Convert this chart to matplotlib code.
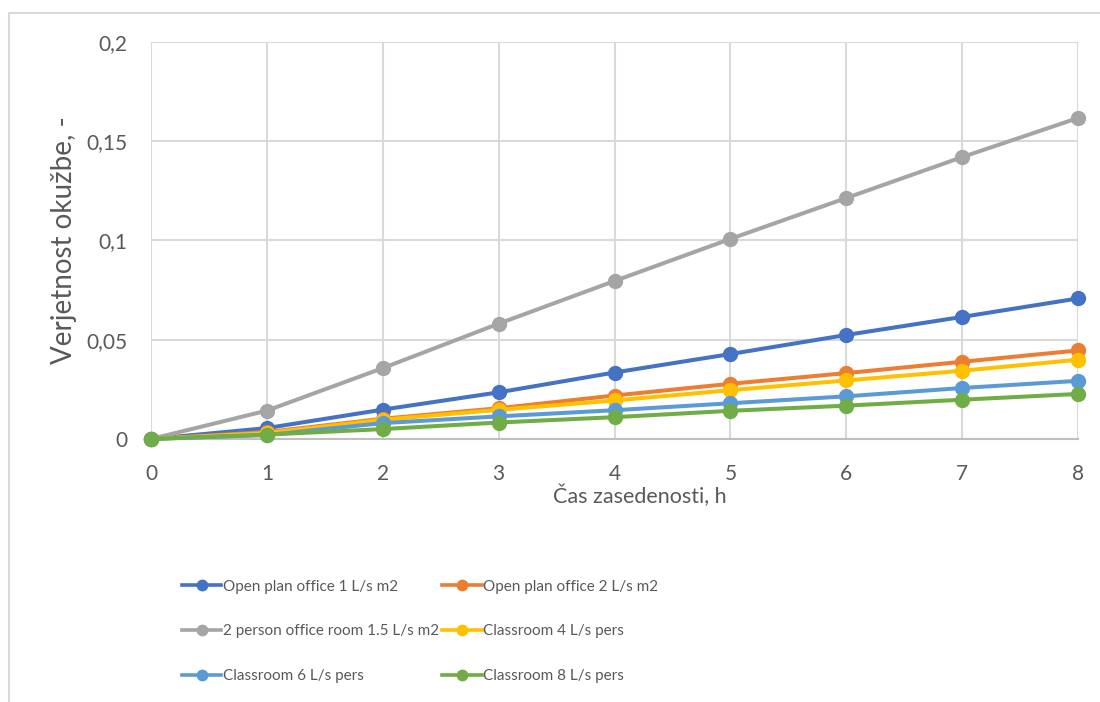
import matplotlib.pyplot as plt
import numpy as np
from matplotlib.lines import Line2D
from matplotlib.patches import Rectangle
from matplotlib.ticker import FuncFormatter, MultipleLocator

plt.rcParams['font.family'] = ['Lato', 'DejaVu Sans']

# Cas zasedenosti [h]
hours = np.arange(0, 9)

open_office_1 = [0, 0.0055, 0.0148, 0.0235, 0.0335, 0.0428, 0.0524, 0.0615, 0.0708]
open_office_2 = [0, 0.0035, 0.0102, 0.0155, 0.0219, 0.0278, 0.0332, 0.0389, 0.0446]
office_2pers = [0, 0.0143, 0.0357, 0.0581, 0.0796, 0.1008, 0.1214, 0.1420, 0.1617]
classroom_4 = [0, 0.0030, 0.0097, 0.0147, 0.0194, 0.0246, 0.0295, 0.0344, 0.0399]
classroom_6 = [0, 0.0020, 0.0080, 0.0114, 0.0145, 0.0180, 0.0215, 0.0257, 0.0293]
classroom_8 = [0, 0.0022, 0.0050, 0.0083, 0.0110, 0.0142, 0.0168, 0.0198, 0.0227]

labels = ['Open plan office 1 L/s m2', 'Open plan office 2 L/s m2',
          '2 person office room 1.5 L/s m2', 'Classroom 4 L/s pers',
          'Classroom 6 L/s pers', 'Classroom 8 L/s pers']
series = [open_office_1, open_office_2, office_2pers, classroom_4, classroom_6, classroom_8]
colors = ['#4472C4', '#ED7D31', '#A5A5A5', '#FFC000', '#5B9BD5', '#70AD47']

txt = '#595959'

fig = plt.figure(figsize=(11, 7.02), dpi=100)
ax = fig.add_axes([151/1100, 1 - 439/702, 927/1100, 397/702])

for y, c, lab in zip(series, colors, labels):
    ax.plot(hours, y, color=c, lw=2.9, marker='o', markersize=10,
            label=lab, clip_on=False, zorder=3)

ax.set_xlim(0, 8)
ax.set_ylim(0, 0.2)
ax.xaxis.set_major_locator(MultipleLocator(1))
ax.yaxis.set_major_locator(MultipleLocator(0.05))
ax.yaxis.set_major_formatter(FuncFormatter(lambda v, p: ('%g' % round(v, 4)).replace('.', ',')))

ax.grid(True, color='#D9D9D9', lw=1.5)
ax.set_axisbelow(True)
for s in ['top', 'right', 'left']:
    ax.spines[s].set_visible(False)
ax.spines['bottom'].set_color('#BFBFBF')
ax.spines['bottom'].set_linewidth(1.5)
ax.tick_params(length=0, labelsize=15, labelcolor=txt)
ax.tick_params(axis='x', pad=18)
ax.tick_params(axis='y', pad=17)

ax.set_xlabel('Čas zasedenosti, h', fontsize=15.5, color=txt)
ax.xaxis.label.set_va('center')
ax.xaxis.set_label_coords((640 - 151) / 927, (439 - 496) / 397)
ax.set_ylabel('Verjetnost okužbe, -', fontsize=20, color=txt)
ax.yaxis.label.set_va('center')
ax.yaxis.set_label_coords((64 - 151) / 927, 0.5)

# legend is filled column by column, so reorder to read row by row
order = [0, 2, 4, 1, 3, 5]
handles = [Line2D([], [], color=colors[i], lw=2.6, marker='o', markersize=7.5) for i in order]
leg = fig.legend(handles, [labels[i] for i in order], ncol=2, frameon=False,
                 loc='upper left', bbox_to_anchor=(168/1100, 1 - 566/702),
                 fontsize=11, labelcolor=txt, handlelength=2.6, handletextpad=0.1,
                 labelspacing=2.0, columnspacing=0.2, borderpad=0.4)

fig.patches.append(Rectangle((9/1100, -0.1), 1.2, 1.1 - 13/702, transform=fig.transFigure,
                             fill=False, edgecolor='#D9D9D9', lw=1.5))

fig.savefig('out.png', dpi=100, facecolor='white')
